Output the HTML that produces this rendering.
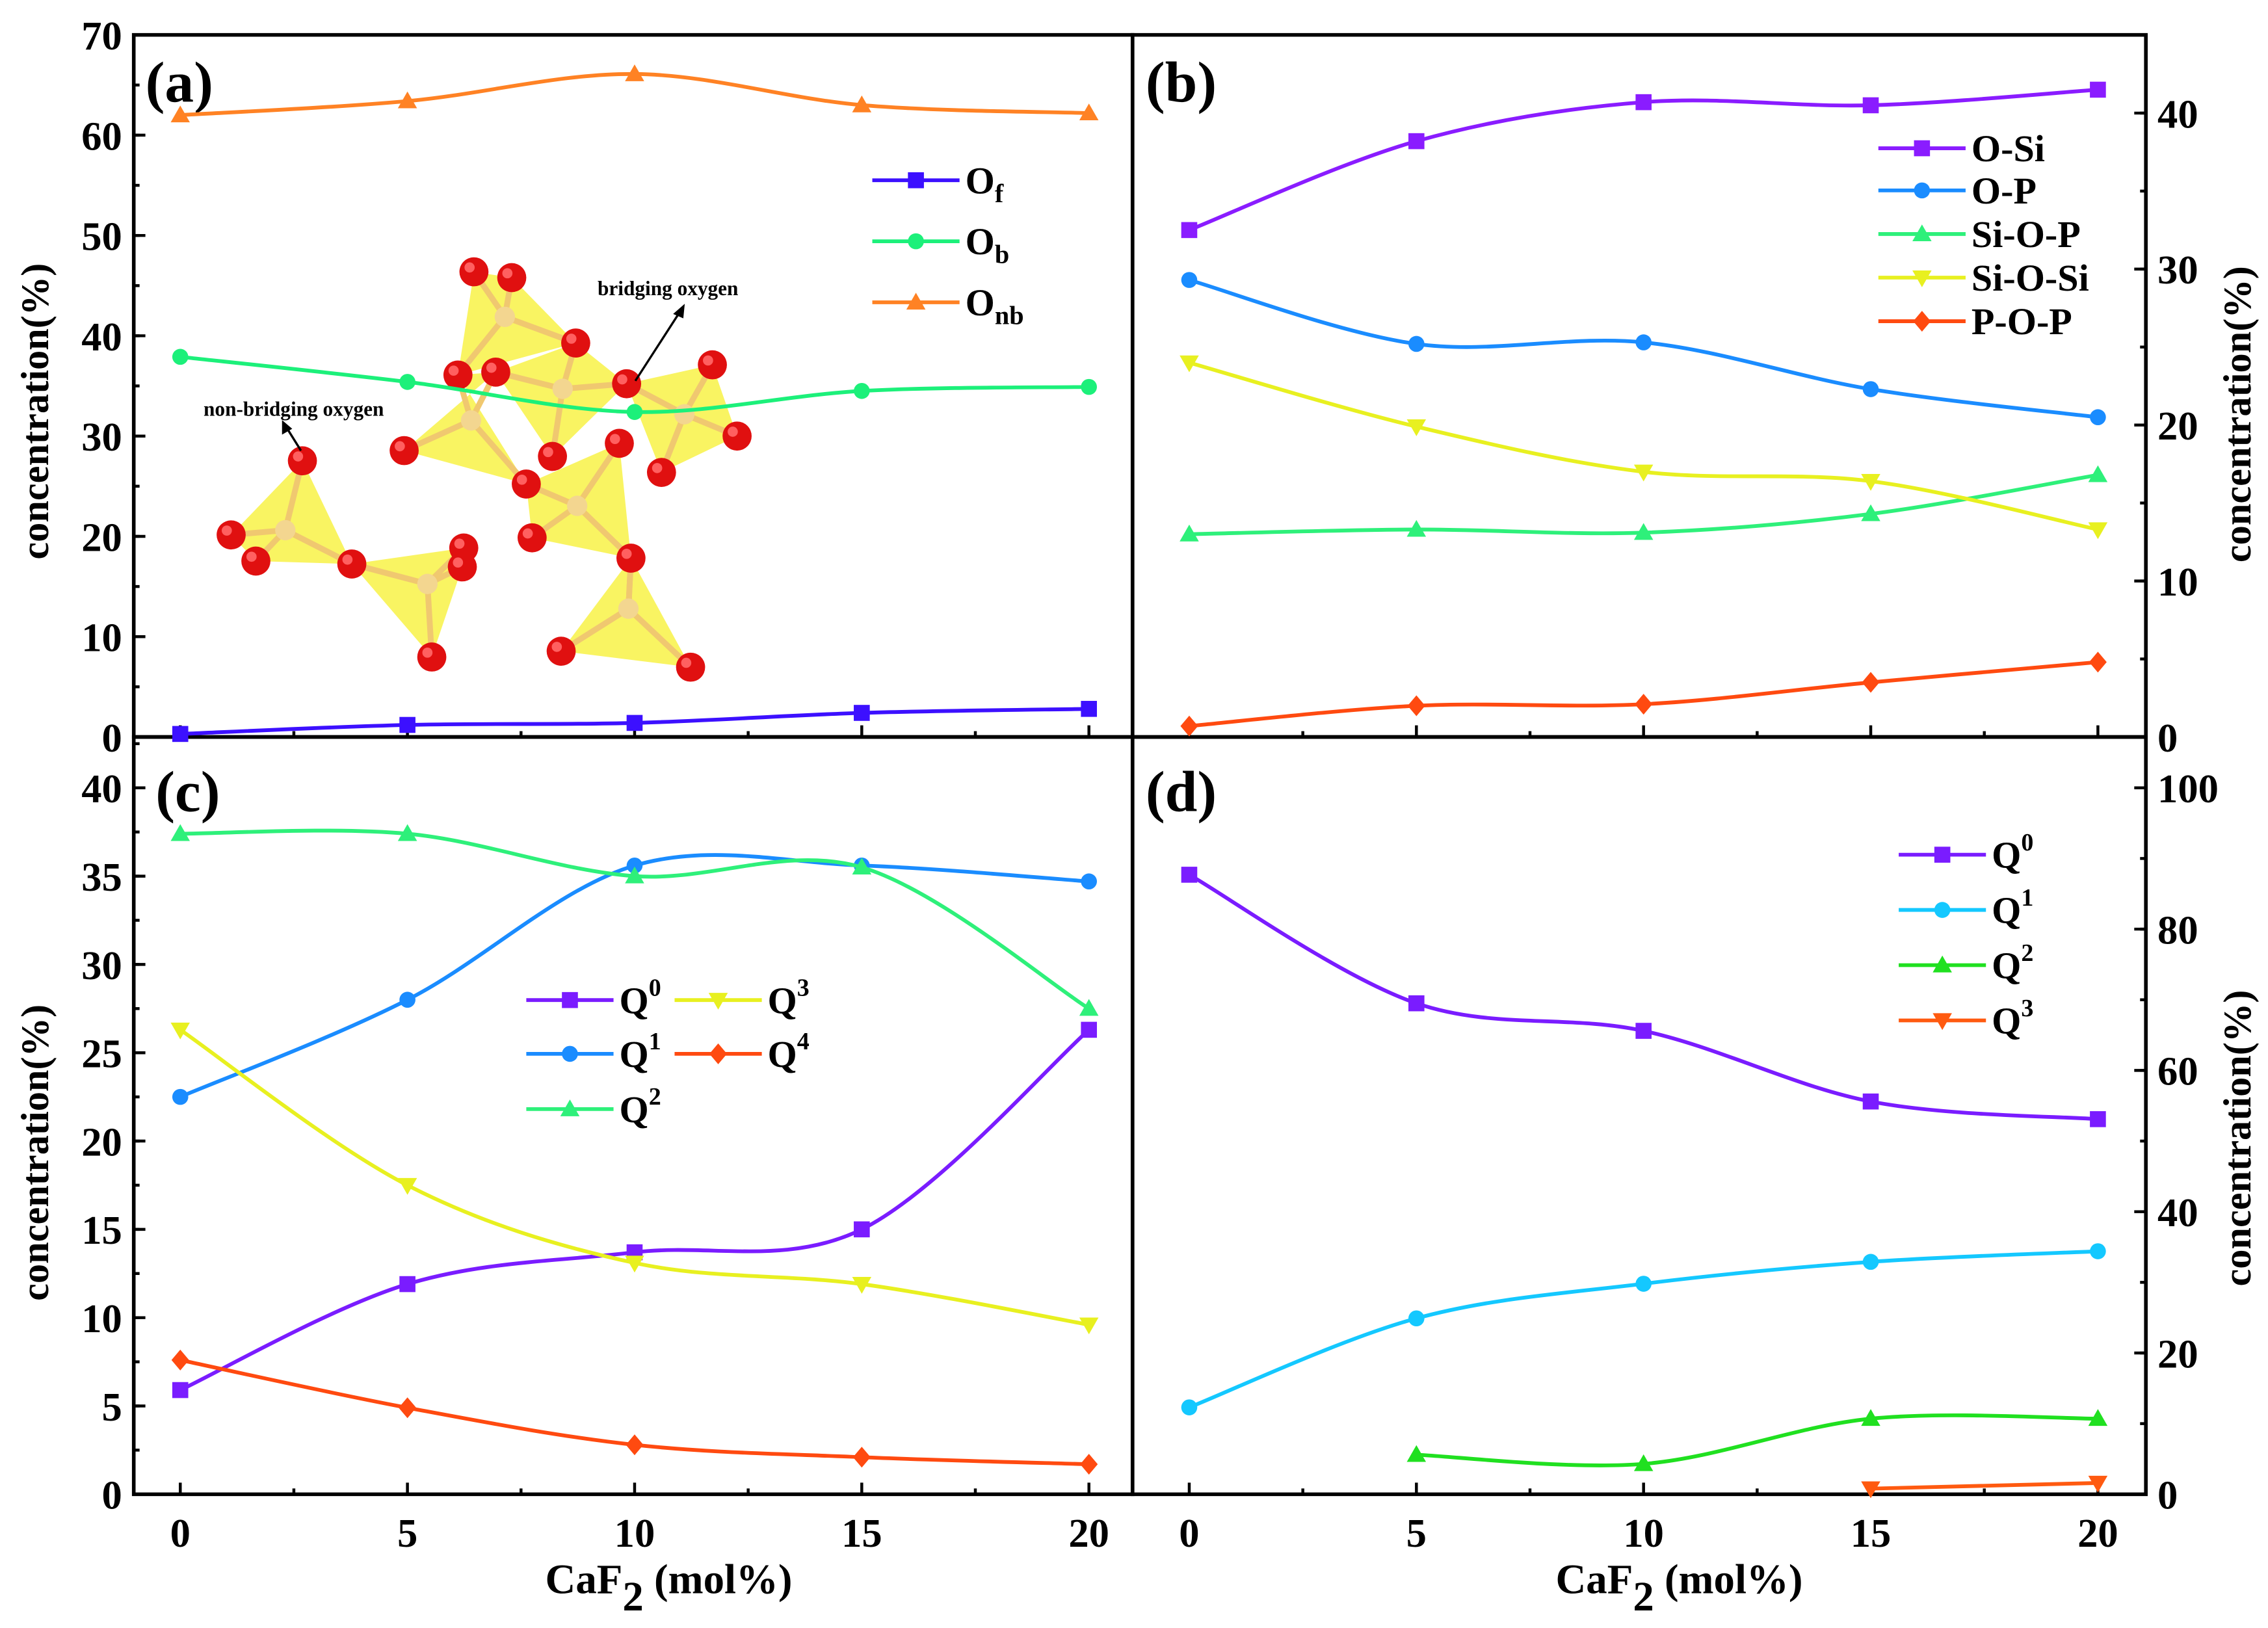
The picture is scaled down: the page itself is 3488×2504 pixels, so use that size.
<!DOCTYPE html>
<html><head><meta charset="utf-8"><style>
html,body{margin:0;padding:0;background:#fff;}
svg{display:block;font-family:"Liberation Serif","Times New Roman",serif;font-weight:bold;}
</style></head><body>
<svg id="fig" width="3488" height="2504" viewBox="0 0 1560 1120" preserveAspectRatio="none" xmlns="http://www.w3.org/2000/svg">
<g id="inset"></g>
<g id="plots"></g>
</svg>
<script>
// ---- data ----
const xVals = [0, 5, 10, 15, 20];
const aOf = [0.3, 1.2, 1.4, 2.4, 2.8];
const aOb = [37.9, 35.4, 32.4, 34.5, 34.9];
const aOnb = [62.0, 63.4, 66.1, 63.0, 62.2];
const bOSi = [32.5, 38.2, 40.7, 40.5, 41.5];
const bOP = [29.3, 25.2, 25.3, 22.3, 20.5];
const bSiOP = [13.0, 13.3, 13.1, 14.3, 16.8];
const bSiOSi = [24.0, 19.9, 17.0, 16.4, 13.3];
const bPOP = [0.7, 2.0, 2.1, 3.5, 4.8];
const cQ0 = [5.9, 11.9, 13.7, 15.0, 26.3];
const cQ1 = [22.5, 28.0, 35.6, 35.6, 34.7];
const cQ2 = [37.4, 37.4, 35.0, 35.5, 27.5];
const cQ3 = [26.3, 17.5, 13.1, 11.9, 9.6];
const cQ4 = [7.6, 4.9, 2.8, 2.1, 1.7];
const dQ0 = [87.7, 69.5, 65.6, 55.6, 53.1];
const dQ1 = [12.3, 24.9, 29.8, 32.9, 34.4];
const dQ2x = [5, 10, 15, 20];
const dQ2 = [5.6, 4.3, 10.7, 10.7];
const dQ3x = [15, 20];
const dQ3 = [0.8, 1.6];
const ticksA = [0,10,20,30,40,50,60,70];
const ticksB = [0,10,20,30,40];
const ticksC = [0,5,10,15,20,25,30,35,40];
const ticksD = [0,20,40,60,80,100];
const ticksX = [0,5,10,15,20];

const NS = "http://www.w3.org/2000/svg";
const root = document.getElementById('plots');
function el(tag, attrs, parent, text){
  const e = document.createElementNS(NS, tag);
  for (const k in attrs) e.setAttribute(k, attrs[k]);
  if (text !== undefined) e.textContent = text;
  (parent||root).appendChild(e);
  return e;
}
function mkX(x0px){ return v => x0px + v*31.25; }
function mkY(y0px, pxPerUnit){ return v => y0px - v*pxPerUnit; }
const xL = mkX(124), xR = mkX(818);
const yA = mkY(507, 6.9), yB = mkY(507, 10.73), yC = mkY(1028, 12.15), yD = mkY(1028, 4.86);

function smoothPath(pts){
  if (pts.length < 2) return '';
  let d = `M${pts[0][0]},${pts[0][1]}`;
  for (let i=0;i<pts.length-1;i++){
    const p0 = pts[Math.max(i-1,0)], p1 = pts[i], p2 = pts[i+1], p3 = pts[Math.min(i+2,pts.length-1)];
    const c1 = [p1[0]+(p2[0]-p0[0])/6, p1[1]+(p2[1]-p0[1])/6];
    const c2 = [p2[0]-(p3[0]-p1[0])/6, p2[1]-(p3[1]-p1[1])/6];
    d += ` C${c1[0]},${c1[1]} ${c2[0]},${c2[1]} ${p2[0]},${p2[1]}`;
  }
  return d;
}
function marker(g, shape, x, y, color, s){
  s = s||5.5;
  let m;
  if (shape==='sq') m = el('rect',{x:x-s,y:y-s,width:2*s,height:2*s,fill:color},g);
  else if (shape==='ci') m = el('circle',{cx:x,cy:y,r:s,fill:color},g);
  else if (shape==='up') m = el('polygon',{points:`${x},${y-s*1.2} ${x-s*1.2},${y+s*0.9} ${x+s*1.2},${y+s*0.9}`,fill:color},g);
  else if (shape==='dn') m = el('polygon',{points:`${x},${y+s*1.2} ${x-s*1.2},${y-s*0.9} ${x+s*1.2},${y-s*0.9}`,fill:color},g);
  else m = el('polygon',{points:`${x},${y-s*1.3} ${x+s*1.1},${y} ${x},${y+s*1.3} ${x-s*1.1},${y}`,fill:color},g);
  
  
}
function series(name, xs, ys, fx, fy, color, shape){
  const g = el('g',{});
  
  
  const pts = xs.map((x,i)=>[fx(x), fy(ys[i])]);
  const p = el('path',{d:smoothPath(pts),fill:'none',stroke:color,'stroke-width':2.6},g);
  
  
  pts.forEach(pt=>marker(g, shape, pt[0], pt[1], color));
}
function legendEntry(name, x, y, color, shape, label, sub, sup){
  const g = el('g',{});
  
  
  el('line',{x1:x,y1:y,x2:x+60,y2:y,stroke:color,'stroke-width':2.6},g);
  marker(g, shape, x+30, y, color);
  const t = el('text',{x:x+64,y:y+9,'font-size':26},g,label);
  if (sub) el('tspan',{dy:6,'font-size':18},t,sub);
  if (sup) el('tspan',{dy:-12,'font-size':17},t,sup);
}
function frame(name,x0,y0,x1,y1){
  const r = el('rect',{x:x0,y:y0,width:x1-x0,height:y1-y0,fill:'none',stroke:'#000','stroke-width':2.5});
  
  
}
frame('panel-a-frame',92,24,779,507);
frame('panel-b-frame',779,24,1476,507);
frame('panel-c-frame',92,507,779,1028);
frame('panel-d-frame',779,507,1476,1028);

function yTicks(name, ticks, fy, axisX, side, minorStep, yMin, yMax){
  const g = el('g',{});
  
  
  const dir = side==='left'?1:-1;
  for (let v=0; v<=yMax+1e-6; v+=minorStep){
    const yy = fy(v); if (yy < yMin-0.5) continue;
    el('line',{x1:axisX,y1:yy,x2:axisX+dir*4,y2:yy,stroke:'#000','stroke-width':2},g);
  }
  ticks.forEach(v=>{
    const yy = fy(v);
    el('line',{x1:axisX,y1:yy,x2:axisX+dir*8,y2:yy,stroke:'#000','stroke-width':2},g);
    el('text',{x: side==='left'? axisX-8 : axisX+8, y: yy+10, 'font-size':28, 'text-anchor': side==='left'?'end':'start'},g,String(v));
  });
}
yTicks('y-axis-a-ticks', ticksA, yA, 92, 'left', 5, 24, 70);
yTicks('y-axis-b-ticks', ticksB, yB, 1476, 'right', 5, 24, 45);
yTicks('y-axis-c-ticks', ticksC, yC, 92, 'left', 2.5, 507, 43);
yTicks('y-axis-d-ticks', ticksD, yD, 1476, 'right', 10, 507, 107);

function xTicks(name, fx, yAxis, labels, x0, x1){
  const g = el('g',{});
  
  
  for (let v=-2.5; v<=22.5; v+=2.5){
    const xx = fx(v); if (xx<=x0+1||xx>=x1-1) continue;
    const major = Math.abs(v%5)<1e-6;
    el('line',{x1:xx,y1:yAxis,x2:xx,y2:yAxis-(major?8:4),stroke:'#000','stroke-width':2},g);
  }
  if (labels) ticksX.forEach(v=>el('text',{x:fx(v),y:yAxis+36,'font-size':28,'text-anchor':'middle'},g,String(v)));
}
xTicks('x-axis-a-ticks', xL, 507, false, 92, 779);
xTicks('x-axis-b-ticks', xR, 507, false, 779, 1476);
xTicks('x-axis-c-ticks', xL, 1028, true, 92, 779);
xTicks('x-axis-d-ticks', xR, 1028, true, 779, 1476);

function vtitle(name,x,y){
  const t = el('text',{x:x,y:y,'font-size':27,'text-anchor':'middle',transform:`rotate(-90 ${x} ${y})`},root,'concentration(%)');
   
}
vtitle('y-axis-title-a',33,283); vtitle('y-axis-title-b',1548,285);
vtitle('y-axis-title-c',33,793); vtitle('y-axis-title-d',1548,783);
function xtitle(name,x){
  const t = el('text',{x:x,y:1096,'font-size':29,'text-anchor':'middle'},root,'CaF');
  el('tspan',{dy:12,'font-size':29},t,'2');
  el('tspan',{dy:-12},t,' (mol%)');
   
}
xtitle('x-axis-title-left',460); xtitle('x-axis-title-right',1155);
[['panel-label-a',100,70,'(a)'],['panel-label-b',788,70,'(b)'],['panel-label-c',107,558,'(c)'],['panel-label-d',788,558,'(d)']].forEach(p=>{
  const t = el('text',{x:p[1],y:p[2],'font-size':40},root,p[3]);
   
});

// inset molecule
const inset = document.getElementById('inset');
const tets = [
 [[326,187],[352,191],[396,236],[315,258]],
 [[341,256],[396,236],[431,264],[380,314]],
 [[431,264],[490,251],[507,300],[455,325]],
 [[341,256],[278,310],[362,333],[315,258]],
 [[362,333],[426,305],[434,384],[366,370]],
 [[208,317],[159,368],[176,386],[242,388]],
 [[242,388],[319,377],[318,390],[297,452]],
 [[434,384],[386,448],[475,459],[434,384]]
];
tets.forEach(t=>{
  const cx=(t[0][0]+t[1][0]+t[2][0]+t[3][0])/4, cy=(t[0][1]+t[1][1]+t[2][1]+t[3][1])/4;
  el('polygon',{points:t.map(p=>p.join(',')).join(' '),fill:'#f6f020','fill-opacity':0.7},inset);
  t.forEach(p=>el('line',{x1:cx,y1:cy,x2:p[0],y2:p[1],stroke:'#f0c870','stroke-width':4},inset));
  el('circle',{cx:cx,cy:cy,r:7,fill:'#f3d690'},inset);
});
[[326,187],[352,191],[396,236],[315,258],[341,256],[431,264],[490,251],[507,300],[455,325],[380,314],[278,310],[362,333],[426,305],[434,384],[366,370],[208,317],[159,368],[176,386],[242,388],[319,377],[318,390],[297,452],[386,448],[475,459]].forEach(p=>{
  el('circle',{cx:p[0],cy:p[1],r:10,fill:'#e01010'},inset);
  el('circle',{cx:p[0]-3,cy:p[1]-3,r:3.5,fill:'#ff6060'},inset);
});
el('text',{x:411,y:203,'font-size':14},inset,'bridging oxygen');
el('line',{x1:468,y1:214,x2:437,y2:262,stroke:'#000','stroke-width':1.5},inset);
el('polygon',{points:'471,209 463,216 470,219',fill:'#000'},inset);
el('text',{x:140,y:286,'font-size':14},inset,'non-bridging oxygen');
el('line',{x1:197,y1:294,x2:207,y2:310,stroke:'#000','stroke-width':1.5},inset);
el('polygon',{points:'194,289 194,299 201,295',fill:'#000'},inset);

series('series-a-Of', xVals, aOf, xL, yA, '#3c10ff', 'sq');
series('series-a-Ob', xVals, aOb, xL, yA, '#1cf07a', 'ci');
series('series-a-Onb', xVals, aOnb, xL, yA, '#ff8224', 'up');
series('series-b-O-Si', xVals, bOSi, xR, yB, '#8a1cff', 'sq');
series('series-b-O-P', xVals, bOP, xR, yB, '#1a8cff', 'ci');
series('series-b-Si-O-P', xVals, bSiOP, xR, yB, '#2ef07a', 'up');
series('series-b-Si-O-Si', xVals, bSiOSi, xR, yB, '#e8f020', 'dn');
series('series-b-P-O-P', xVals, bPOP, xR, yB, '#ff4a10', 'di');
series('series-c-Q0', xVals, cQ0, xL, yC, '#7a1cff', 'sq');
series('series-c-Q1', xVals, cQ1, xL, yC, '#1a8cff', 'ci');
series('series-c-Q2', xVals, cQ2, xL, yC, '#2ef07a', 'up');
series('series-c-Q3', xVals, cQ3, xL, yC, '#e8f020', 'dn');
series('series-c-Q4', xVals, cQ4, xL, yC, '#ff4a10', 'di');
series('series-d-Q0', xVals, dQ0, xR, yD, '#7a1cff', 'sq');
series('series-d-Q1', xVals, dQ1, xR, yD, '#14c8ff', 'ci');
series('series-d-Q2', dQ2x, dQ2, xR, yD, '#20e020', 'up');
series('series-d-Q3', dQ3x, dQ3, xR, yD, '#ff5a10', 'dn');

legendEntry('legend-a-Of',600,124,'#3c10ff','sq','O','f');
legendEntry('legend-a-Ob',600,166,'#1cf07a','ci','O','b');
legendEntry('legend-a-Onb',600,208,'#ff8224','up','O','nb');
legendEntry('legend-b-O-Si',1292,102,'#8a1cff','sq','O-Si');
legendEntry('legend-b-O-P',1292,131,'#1a8cff','ci','O-P');
legendEntry('legend-b-Si-O-P',1292,161,'#2ef07a','up','Si-O-P');
legendEntry('legend-b-Si-O-Si',1292,191,'#e8f020','dn','Si-O-Si');
legendEntry('legend-b-P-O-P',1292,221,'#ff4a10','di','P-O-P');
legendEntry('legend-c-Q0',362,688,'#7a1cff','sq','Q',null,'0');
legendEntry('legend-c-Q1',362,725,'#1a8cff','ci','Q',null,'1');
legendEntry('legend-c-Q2',362,763,'#2ef07a','up','Q',null,'2');
legendEntry('legend-c-Q3',464,688,'#e8f020','dn','Q',null,'3');
legendEntry('legend-c-Q4',464,725,'#ff4a10','di','Q',null,'4');
legendEntry('legend-d-Q0',1306,588,'#7a1cff','sq','Q',null,'0');
legendEntry('legend-d-Q1',1306,626,'#14c8ff','ci','Q',null,'1');
legendEntry('legend-d-Q2',1306,664,'#20e020','up','Q',null,'2');
legendEntry('legend-d-Q3',1306,702,'#ff5a10','dn','Q',null,'3');
</script>
</body></html>
